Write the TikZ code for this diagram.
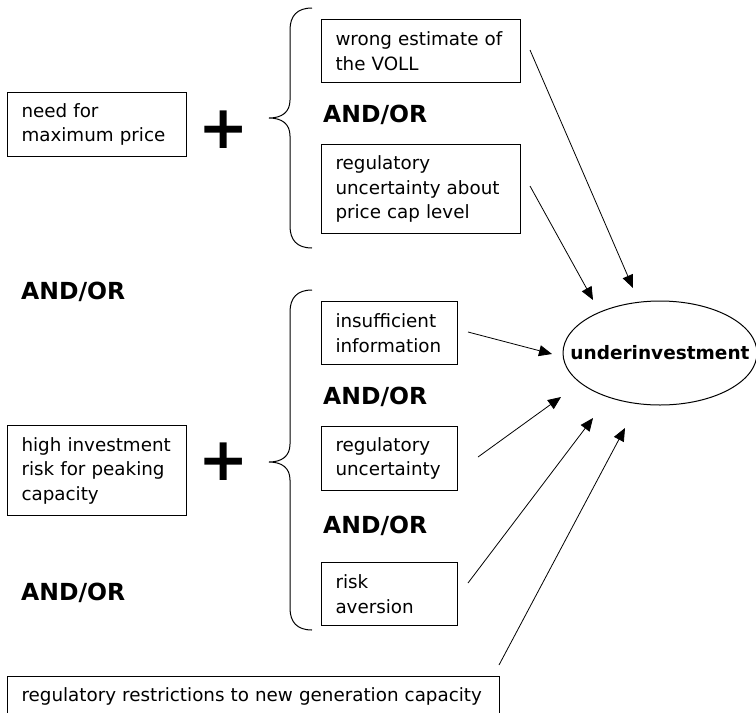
\documentclass[tikz,border=0pt]{standalone}
\usepackage{fontspec}
\setmainfont{DejaVu Sans}
\usetikzlibrary{arrows.meta,shapes.geometric}
\begin{document}
\begin{tikzpicture}[x=1pt,y=-1pt,
  txt/.style={font=\fontsize{18.3}{24.5}\selectfont},
  box/.style={txt, draw, line width=1pt, align=left, anchor=north west,
    inner xsep=14pt, inner ysep=0pt},
  andor/.style={font=\fontsize{23.5}{26}\selectfont\bfseries, anchor=west, inner sep=0pt},
  plussign/.style={font=\fontsize{60}{60}\selectfont\bfseries, inner sep=0pt},
  brace/.style={line width=1pt},
  arr/.style={line width=0.8pt, -{Triangle[length=13pt,width=11pt]}}
]
\clip (0,0) rectangle (756,713);

% first group: price cap
\node[box, text width=151pt, minimum height=64pt] (need) at (7,92) {need for\\maximum price};
\node[plussign] (plusA) at (224,130) {+};
\draw[brace] (312,8) .. controls (297,8) and (290,16) .. (290,30) -- (290,100)
  .. controls (290,112) and (282,118) .. (269,118)
  .. controls (282,118) and (290,124) .. (290,136) -- (290,226)
  .. controls (290,240) and (297,248) .. (312,248);
\node[box, text width=171pt, minimum height=63pt] (voll) at (321,19) {wrong estimate of\\the VOLL};
\node[andor] (aoA) at (323,115) {AND/OR};
\node[box, text width=171pt, minimum height=89pt] (capreg) at (321,144) {regulatory\\uncertainty about\\price cap level};

% alternatives on the left
\node[andor] (aoL1) at (21,292) {AND/OR};
\node[andor] (aoL2) at (21,593) {AND/OR};

% second group: investment risk
\node[box, text width=151pt, minimum height=90pt] (high) at (7,425) {high investment\\risk for peaking\\capacity};
\node[plussign] (plusB) at (224,462) {+};
\draw[brace] (312,290) .. controls (297,290) and (290,298) .. (290,312) -- (290,444)
  .. controls (290,456) and (282,462) .. (269,462)
  .. controls (282,462) and (290,468) .. (290,480) -- (290,608)
  .. controls (290,622) and (297,630) .. (312,630);
\node[box, text width=108pt, minimum height=63pt] (info) at (321,301) {insufficient\\information};
\node[andor] (aoB1) at (323,397) {AND/OR};
\node[box, text width=108pt, minimum height=64pt] (regunc) at (321,426) {regulatory\\uncertainty};
\node[andor] (aoB2) at (323,526) {AND/OR};
\node[box, text width=108pt, minimum height=63pt] (risk) at (321,562) {risk\\aversion};

% bottom cause (its lower edge runs off the picture)
\node[box, text width=464pt, minimum height=40pt] (restr) at (7,676)
  {regulatory restrictions to new generation capacity};

% effect: fixed-size ellipse, label allowed to fill it
\node[draw, ellipse, line width=1pt, minimum width=194pt, minimum height=104pt,
  inner sep=0pt, font=\fontsize{18.5}{20}\selectfont\bfseries] (under) at (660,353)
  {\makebox[0pt]{underinvestment}};

% connector end points
\coordinate (s1) at (530,50);  \coordinate (e1) at (633,288);
\coordinate (s2) at (530,186); \coordinate (e2) at (593,300);
\coordinate (s3) at (468,332); \coordinate (e3) at (552,354);
\coordinate (s4) at (478,457); \coordinate (e4) at (561,397);
\coordinate (s5) at (468,583); \coordinate (e5) at (593,418);
\coordinate (s6) at (499,665); \coordinate (e6) at (625,428);

\draw[arr] (s1) -- (e1);
\draw[arr] (s2) -- (e2);
\draw[arr] (s3) -- (e3);
\draw[arr] (s4) -- (e4);
\draw[arr] (s5) -- (e5);
\draw[arr] (s6) -- (e6);
\end{tikzpicture}
\end{document}
